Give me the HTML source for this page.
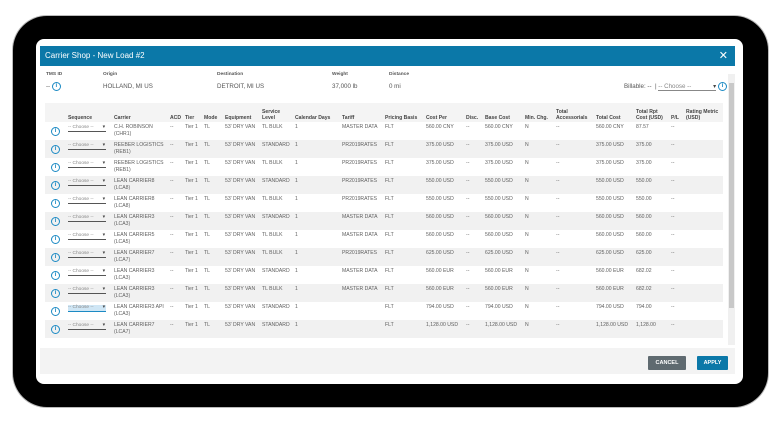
<!DOCTYPE html>
<html><head><meta charset="utf-8"><style>
*{box-sizing:border-box;margin:0;padding:0}
body{width:780px;height:428px;background:#fff;position:relative;overflow:hidden;font-family:"Liberation Sans",sans-serif}
.tab{position:absolute;left:13px;top:16px;width:755px;height:391px;background:#000;border-radius:34px;box-shadow:0 0 0 1px #bbb}
.scr{position:absolute;left:36px;top:39px;width:707px;height:345px;background:#fff;border-radius:8px}
.modal{position:absolute;left:40px;top:46px;width:695px;height:328px;background:#fff}
.hdr{position:absolute;left:0;top:0;width:695px;height:20px;background:#0b78a8;color:#fff;font-size:8px;line-height:20px;padding-left:5px}
.x{position:absolute;right:7px;top:0;font-size:11px;line-height:20px}
.lab{position:absolute;font-size:4.8px;font-weight:bold;color:#555}
.val{position:absolute;font-size:6.2px;color:#555}
.i{display:inline-block;width:9px;height:9px;border:1.3px solid #1b8ac4;border-radius:50%;color:#1b8ac4;font-size:6px;line-height:6.4px;text-align:center;font-weight:bold;vertical-align:middle}
table{position:absolute;left:5px;top:57px;width:678px;border-collapse:collapse;table-layout:fixed;font-size:5.1px;color:#606060}
th{height:19px;vertical-align:bottom;text-align:left;font-weight:bold;color:#444;background:#f4f4f4;padding:0 1px 1px 2px;line-height:6.2px}
td{height:18px;vertical-align:top;padding:2px 1px 0 2px;line-height:7px;white-space:nowrap;overflow:hidden}
tr.s td{background:#f1f1f1}
td.ic{vertical-align:middle;text-align:center;padding:0}
.ch{display:inline-block;width:38px;border-bottom:1px solid #555;color:#888;font-size:4.8px;line-height:6px;position:relative}
.ch:after{content:"▾";position:absolute;right:1px;top:0;color:#444}
.ch.b{background:#cfe6f5;border-bottom-color:#1b8ac4}
.sb{position:absolute;left:688px;top:28px;width:7px;height:271px;background:#f0f0f0}
.sb div{position:absolute;left:1px;top:9px;width:5px;height:225px;background:#c8c8c8}
.ft{position:absolute;left:0;top:302px;width:695px;height:26px;background:#f3f3f3}
.btn{position:absolute;top:8px;height:14px;color:#fff;font-size:5.5px;font-weight:bold;line-height:14px;text-align:center;border-radius:1px}
</style></head><body>
<div class="tab"></div>
<div class="scr"></div>
<div class="modal">
<div class="hdr">Carrier Shop - New Load #2<span class="x">✕</span></div>
<div class="lab" style="left:6px;top:26px">TMS ID</div>
<div class="val" style="left:6px;top:36px">-- <span class="i">i</span></div>
<div class="lab" style="left:63px;top:26px">Origin</div>
<div class="val" style="left:63px;top:37px">HOLLAND, MI US</div>
<div class="lab" style="left:177px;top:26px">Destination</div>
<div class="val" style="left:177px;top:37px">DETROIT, MI US</div>
<div class="lab" style="left:292px;top:26px">Weight</div>
<div class="val" style="left:292px;top:37px">37,000 lb</div>
<div class="lab" style="left:349px;top:26px">Distance</div>
<div class="val" style="left:349px;top:37px">0 mi</div>
<div class="val" style="left:584px;top:36px">Billable: -- &nbsp;| <span style="display:inline-block;width:58px;border-bottom:1px solid #888;color:#888">-- Choose --<span style="float:right;color:#444">▾</span></span> <span class="i">i</span></div>
<div class="sb"><div></div></div>
<table>
<colgroup><col style="width:21px"><col style="width:46px"><col style="width:56px"><col style="width:15px"><col style="width:19px"><col style="width:21px"><col style="width:37px"><col style="width:33px"><col style="width:47px"><col style="width:43px"><col style="width:41px"><col style="width:40px"><col style="width:19px"><col style="width:40px"><col style="width:31px"><col style="width:40px"><col style="width:40px"><col style="width:35px"><col style="width:15px"><col style="width:39px"></colgroup>
<tr><th></th><th>Sequence</th><th>Carrier</th><th>ACD</th><th>Tier</th><th>Mode</th><th>Equipment</th><th>Service Level</th><th>Calendar Days</th><th>Tariff</th><th>Pricing Basis</th><th>Cost Per</th><th>Disc.</th><th>Base Cost</th><th>Min. Chg.</th><th>Total Accessorials</th><th>Total Cost</th><th>Total Rpt Cost (USD)</th><th>P/L</th><th>Rating Metric (USD)</th></tr>
<tr><td class="ic"><span class="i">i</span></td><td><span class="ch">-- Choose --</span></td><td>C.H. ROBINSON<br>(CHR1)</td><td>--</td><td>Tier 1</td><td>TL</td><td>53' DRY VAN</td><td>TL BULK</td><td>1</td><td>MASTER DATA</td><td>FLT</td><td>560.00 CNY</td><td>--</td><td>560.00 CNY</td><td>N</td><td>--</td><td>560.00 CNY</td><td>87.57</td><td>--</td><td></td></tr>
<tr class="s"><td class="ic"><span class="i">i</span></td><td><span class="ch">-- Choose --</span></td><td>REEBER LOGISTICS<br>(REB1)</td><td>--</td><td>Tier 1</td><td>TL</td><td>53' DRY VAN</td><td>STANDARD</td><td>1</td><td>PR2019RATES</td><td>FLT</td><td>375.00 USD</td><td>--</td><td>375.00 USD</td><td>N</td><td>--</td><td>375.00 USD</td><td>375.00</td><td>--</td><td></td></tr>
<tr><td class="ic"><span class="i">i</span></td><td><span class="ch">-- Choose --</span></td><td>REEBER LOGISTICS<br>(REB1)</td><td>--</td><td>Tier 1</td><td>TL</td><td>53' DRY VAN</td><td>TL BULK</td><td>1</td><td>PR2019RATES</td><td>FLT</td><td>375.00 USD</td><td>--</td><td>375.00 USD</td><td>N</td><td>--</td><td>375.00 USD</td><td>375.00</td><td>--</td><td></td></tr>
<tr class="s"><td class="ic"><span class="i">i</span></td><td><span class="ch">-- Choose --</span></td><td>LEAN CARRIER8<br>(LCA8)</td><td>--</td><td>Tier 1</td><td>TL</td><td>53' DRY VAN</td><td>STANDARD</td><td>1</td><td>PR2019RATES</td><td>FLT</td><td>550.00 USD</td><td>--</td><td>550.00 USD</td><td>N</td><td>--</td><td>550.00 USD</td><td>550.00</td><td>--</td><td></td></tr>
<tr><td class="ic"><span class="i">i</span></td><td><span class="ch">-- Choose --</span></td><td>LEAN CARRIER8<br>(LCA8)</td><td>--</td><td>Tier 1</td><td>TL</td><td>53' DRY VAN</td><td>TL BULK</td><td>1</td><td>PR2019RATES</td><td>FLT</td><td>550.00 USD</td><td>--</td><td>550.00 USD</td><td>N</td><td>--</td><td>550.00 USD</td><td>550.00</td><td>--</td><td></td></tr>
<tr class="s"><td class="ic"><span class="i">i</span></td><td><span class="ch">-- Choose --</span></td><td>LEAN CARRIER3<br>(LCA3)</td><td>--</td><td>Tier 1</td><td>TL</td><td>53' DRY VAN</td><td>STANDARD</td><td>1</td><td>MASTER DATA</td><td>FLT</td><td>560.00 USD</td><td>--</td><td>560.00 USD</td><td>N</td><td>--</td><td>560.00 USD</td><td>560.00</td><td>--</td><td></td></tr>
<tr><td class="ic"><span class="i">i</span></td><td><span class="ch">-- Choose --</span></td><td>LEAN CARRIER5<br>(LCA5)</td><td>--</td><td>Tier 1</td><td>TL</td><td>53' DRY VAN</td><td>TL BULK</td><td>1</td><td>MASTER DATA</td><td>FLT</td><td>560.00 USD</td><td>--</td><td>560.00 USD</td><td>N</td><td>--</td><td>560.00 USD</td><td>560.00</td><td>--</td><td></td></tr>
<tr class="s"><td class="ic"><span class="i">i</span></td><td><span class="ch">-- Choose --</span></td><td>LEAN CARRIER7<br>(LCA7)</td><td>--</td><td>Tier 1</td><td>TL</td><td>53' DRY VAN</td><td>TL BULK</td><td>1</td><td>PR2019RATES</td><td>FLT</td><td>625.00 USD</td><td>--</td><td>625.00 USD</td><td>N</td><td>--</td><td>625.00 USD</td><td>625.00</td><td>--</td><td></td></tr>
<tr><td class="ic"><span class="i">i</span></td><td><span class="ch">-- Choose --</span></td><td>LEAN CARRIER3<br>(LCA3)</td><td>--</td><td>Tier 1</td><td>TL</td><td>53' DRY VAN</td><td>STANDARD</td><td>1</td><td>MASTER DATA</td><td>FLT</td><td>560.00 EUR</td><td>--</td><td>560.00 EUR</td><td>N</td><td>--</td><td>560.00 EUR</td><td>682.02</td><td>--</td><td></td></tr>
<tr class="s"><td class="ic"><span class="i">i</span></td><td><span class="ch">-- Choose --</span></td><td>LEAN CARRIER3<br>(LCA3)</td><td>--</td><td>Tier 1</td><td>TL</td><td>53' DRY VAN</td><td>TL BULK</td><td>1</td><td>MASTER DATA</td><td>FLT</td><td>560.00 EUR</td><td>--</td><td>560.00 EUR</td><td>N</td><td>--</td><td>560.00 EUR</td><td>682.02</td><td>--</td><td></td></tr>
<tr><td class="ic"><span class="i">i</span></td><td><span class="ch b">-- Choose --</span></td><td>LEAN CARRIER3 API<br>(LCA3)</td><td>--</td><td>Tier 1</td><td>TL</td><td>53' DRY VAN</td><td>STANDARD</td><td>1</td><td></td><td>FLT</td><td>794.00 USD</td><td>--</td><td>794.00 USD</td><td>N</td><td>--</td><td>794.00 USD</td><td>794.00</td><td>--</td><td></td></tr>
<tr class="s"><td class="ic"><span class="i">i</span></td><td><span class="ch">-- Choose --</span></td><td>LEAN CARRIER7<br>(LCA7)</td><td>--</td><td>Tier 1</td><td>TL</td><td>53' DRY VAN</td><td>STANDARD</td><td>1</td><td></td><td>FLT</td><td>1,128.00 USD</td><td>--</td><td>1,128.00 USD</td><td>N</td><td>--</td><td>1,128.00 USD</td><td>1,128.00</td><td>--</td><td></td></tr>
</table>
<div class="ft">
<div class="btn" style="left:608px;width:38px;background:#5f6a70">CANCEL</div>
<div class="btn" style="left:657px;width:31px;background:#0b78a8">APPLY</div>
</div>
</div>
</body></html>
